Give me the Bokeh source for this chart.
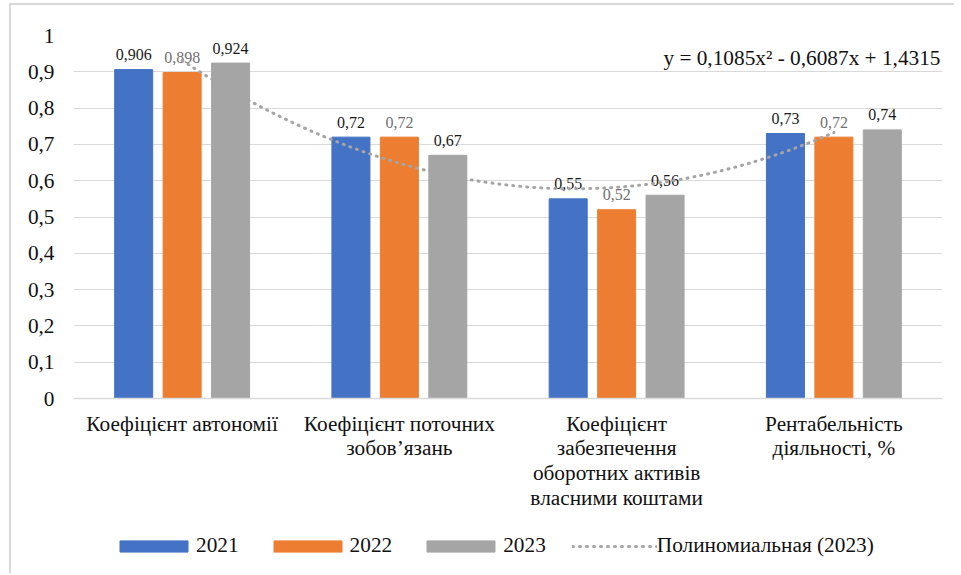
import numpy as np
from bokeh.plotting import figure
from bokeh.layouts import column
from bokeh.models import (ColumnDataSource, FixedTicker, CustomJSTickFormatter, Legend,
                          LegendItem, Label, Range1d)
from bokeh.core.properties import value
from bokeh.embed import file_html
from bokeh.resources import INLINE

# ---- data ----
categories = ["Коефіцієнт автономії",
              "Коефіцієнт поточних\nзобов’язань",
              "Коефіцієнт\nзабезпечення\nоборотних активів\nвласними коштами",
              "Рентабельність\nдіяльності, %"]
years = ["2021", "2022", "2023"]
v2021 = [0.906, 0.72, 0.55, 0.73]
v2022 = [0.898, 0.72, 0.52, 0.72]
v2023 = [0.924, 0.67, 0.56, 0.74]
y_ticks = [0, 0.1, 0.2, 0.3, 0.4, 0.5, 0.6, 0.7, 0.8, 0.9, 1.0]
trend_label = "Полиномиальная (2023)"
equation = "y = 0,1085x² - 0,6087x + 1,4315"

FONT = "Liberation Serif"
BIG = "21.3px"
colors = ["#4472C4", "#ED7D31", "#A5A5A5"]
label_colors = ["#1a1a1a", "#707070", "#1a1a1a"]
offsets = [-0.223, 0.0, 0.223]
bar_w = 0.175
BORDER = "2px solid #d9d9d9"

p = figure(width=945, height=523, output_backend="svg", toolbar_location=None,
           x_range=Range1d(0.5, 4.5), y_range=Range1d(0, 1),
           min_border_left=62, min_border_right=14, min_border_top=30, min_border_bottom=130)
p.margin = (3, 0, 0, 9)
p.outline_line_color = None
p.background_fill_color = "white"
p.border_fill_color = "white"
p.styles = {"border-top": BORDER, "border-left": BORDER}

xs = np.arange(1, len(categories) + 1)
series = [v2021, v2022, v2023]
for vals, col, off, lc in zip(series, colors, offsets, label_colors):
    src = ColumnDataSource(dict(x=xs + off, top=vals,
                                txt=[str(v).replace(".", ",") for v in vals]))
    p.vbar(x="x", top="top", width=bar_w, bottom=0, source=src,
           fill_color=col, line_color=col)
    p.text(x="x", y="top", text="txt", source=src, text_align="center",
           text_baseline="alphabetic", y_offset=-15, text_font=value(FONT),
           text_font_size="16px", text_color=lc)

# polynomial (order 2) trendline fitted to the 2023 series
coef = np.polyfit(xs, v2023, 2)
tx = np.linspace(1, len(categories), 200)
ty = np.polyval(coef, tx)
p.line(tx, ty, line_color="#A5A5A5", line_width=3, line_dash="1 6", line_cap="round")

p.add_layout(Label(x=4.5, y=0.937, x_offset=-2, text=equation, text_align="right",
                   text_baseline="alphabetic", text_font=FONT, text_font_size=BIG,
                   text_color="#111111"))

# axes
p.xaxis.ticker = FixedTicker(ticks=list(xs))
p.xaxis.major_label_overrides = {int(i): c for i, c in zip(xs, categories)}
p.xaxis.major_tick_line_color = None
p.xaxis.minor_tick_line_color = None
p.xaxis.axis_line_color = "#d9d9d9"
p.xaxis.axis_line_width = 1.5
p.xaxis.major_label_text_font = FONT
p.xaxis.major_label_text_font_size = BIG
p.xaxis.major_label_text_color = "#111111"
p.xaxis.major_label_text_line_height = 1.04
p.xaxis.major_label_standoff = 7

p.yaxis.ticker = FixedTicker(ticks=y_ticks)
p.yaxis.formatter = CustomJSTickFormatter(code="const s = Math.round(tick*10)/10; return s.toString().replace('.', ',');")
p.yaxis.major_tick_line_color = None
p.yaxis.minor_tick_line_color = None
p.yaxis.axis_line_color = None
p.yaxis.major_label_text_font = FONT
p.yaxis.major_label_text_font_size = BIG
p.yaxis.major_label_text_color = "#111111"
p.yaxis.major_label_standoff = 13

p.xgrid.grid_line_color = None
p.ygrid.grid_line_color = "#d9d9d9"
p.ygrid.grid_line_width = 1.2
p.ygrid.ticker = FixedTicker(ticks=y_ticks)

# ---- legend strip (separate figure below the chart) ----
lg = figure(width=945, height=47, output_backend="svg", toolbar_location=None,
            x_range=Range1d(0, 1), y_range=Range1d(0, 1),
            min_border_left=62, min_border_right=14, min_border_top=0, min_border_bottom=0)
lg.margin = (0, 0, 0, 9)
lg.styles = {"border-left": BORDER}
lg.axis.visible = False
lg.grid.visible = False
lg.outline_line_color = None
lg.background_fill_color = "white"
lg.border_fill_color = "white"
# placeholder marks (no drawable data) that only supply the legend swatches
nan = float("nan")
leg_renderers = [lg.vbar(x=[nan], top=[nan], width=0.1, fill_color=c, line_color=c) for c in colors]
leg_renderers.append(lg.line(x=[nan, nan], y=[nan, nan], line_color="#A5A5A5", line_width=3,
                             line_dash="1 6", line_cap="round"))
items = [LegendItem(label=lab, renderers=[r])
         for lab, r in zip(years + [trend_label], leg_renderers)]
legend = Legend(items=items, orientation="horizontal", location=(38, 15),
                glyph_width=85, glyph_height=14, label_standoff=0, spacing=26,
                padding=0, margin=0, border_line_color=None, background_fill_alpha=0,
                label_text_font=FONT, label_text_font_size=BIG, label_text_color="#111111")
lg.add_layout(legend, "center")

open("out.html", "w").write(file_html(column(p, lg), INLINE))
